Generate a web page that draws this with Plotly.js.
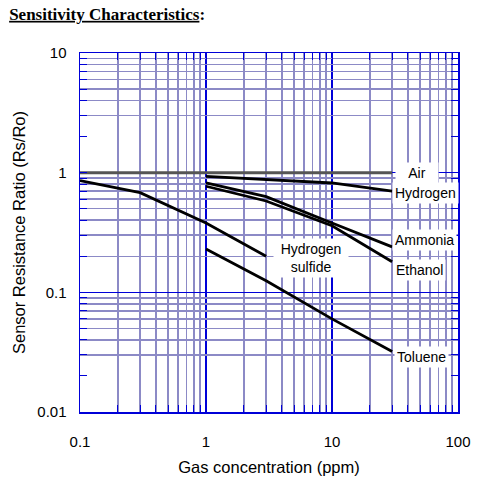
<!DOCTYPE html>
<html><head><meta charset="utf-8">
<script src="https://cdn.plot.ly/plotly-3.0.1.min.js"></script>
<style>html,body{margin:0;padding:0;background:#fff}</style>
</head><body><div id="chart" style="width:481px;height:479px"></div>
<script>
// ---- data ----
const airX = [0.1, 30];
const airY = [1, 1];
const hydrogenX = [1, 3, 10, 30];
const hydrogenY = [0.93, 0.87, 0.82, 0.70];
const ammoniaX = [1, 3, 10, 30];
const ammoniaY = [0.82, 0.63, 0.38, 0.24];
const ethanolX = [1, 3, 10, 30];
const ethanolY = [0.77, 0.58, 0.36, 0.18];
const h2sX = [0.1, 0.3, 1, 3];
const h2sY = [0.86, 0.68, 0.38, 0.20];
const tolueneX = [1, 3, 10, 30];
const tolueneY = [0.23, 0.125, 0.06, 0.032];

// ---- ticks / grid values ----
const xMajorTicks = [0.1, 1, 10, 100];
const xMajorLabels = ['0.1', '1', '10', '100'];
const xMinorTicks = [0.2,0.3,0.4,0.5,0.6,0.7,0.8,0.9, 2,3,4,5,6,7,8,9, 20,30,40,50,60,70,80,90];
const yMajorTicks = [0.01, 0.1, 1, 10];
const yMajorLabels = ['0.01', '0.1', '1', '10'];
const yMinorTicks = [0.02,0.03,0.04,0.05,0.06,0.07,0.08,0.09, 0.2,0.3,0.4,0.5,0.6,0.7,0.8,0.9, 2,3,4,5,6,7,8,9];
const yMinorGrid = [0.03,0.04,0.05,0.06,0.07,0.08,0.09, 0.2,0.3,0.4,0.5,0.6,0.7,0.8,0.9, 3,4,5,6,7,8,9];

const BLUE = '#0000d8';
const LAV = '#8c8ac6';
const FONT = '"Liberation Sans", Arial, sans-serif';

const line = {color: '#000', width: 2.8};
const traces = [
  {x: h2sX, y: h2sY, mode: 'lines', line: line, name: 'Hydrogen sulfide'},
  {x: hydrogenX, y: hydrogenY, mode: 'lines', line: line, name: 'Hydrogen'},
  {x: ammoniaX, y: ammoniaY, mode: 'lines', line: line, name: 'Ammonia'},
  {x: ethanolX, y: ethanolY, mode: 'lines', line: line, name: 'Ethanol'},
  {x: tolueneX, y: tolueneY, mode: 'lines', line: line, name: 'Toluene'},
  {x: airX, y: airY, mode: 'lines', line: {color: '#555555', width: 3}, name: 'Air', xaxis: 'x', yaxis: 'y2'}
];

function last(a) { return a[a.length - 1]; }
function endLabel(text, xs, ys, opts) {
  return Object.assign({
    text: text, x: Math.log10(last(xs)), y: Math.log10(last(ys)), xref: 'x', yref: 'y',
    showarrow: false, xanchor: 'left', yanchor: 'middle', bgcolor: '#ffffff', borderpad: 2,
    font: {family: FONT, size: 14, color: '#000'}
  }, opts);
}

const annotations = [
  endLabel('Air', airX, airY, {width: 38, xshift: 3, yshift: 0}),
  endLabel('Hydrogen', hydrogenX, hydrogenY, {xshift: 0, yshift: -2}),
  endLabel('Ammonia', ammoniaX, ammoniaY, {xshift: 0, yshift: 7}),
  endLabel('Ethanol', ethanolX, ethanolY, {xshift: 1, yshift: -8}),
  endLabel('Toluene', tolueneX, tolueneY, {xshift: 2, yshift: -5}),
  endLabel('Hydrogen<br>sulfide', h2sX, h2sY, {xshift: 7, yshift: -2, align: 'center', width: 70})
];

const layout = {
  width: 481, height: 479,
  margin: {l: 80, r: 23, t: 53, b: 67},
  paper_bgcolor: '#fff', plot_bgcolor: '#fff',
  showlegend: false,
  font: {family: FONT, color: '#000'},
  title: {
    text: '<b><u>Sensitivity Characteristics</u>:</b>',
    font: {family: '"Liberation Serif", "Times New Roman", serif', size: 17, color: '#000'},
    x: 0.019, xanchor: 'left', xref: 'container', y: 0.971, yanchor: 'middle', yref: 'container'
  },
  xaxis: {
    type: 'log', range: [-1, 2],
    tickmode: 'array', tickvals: xMajorTicks, ticktext: xMajorLabels,
    tickfont: {size: 15, family: FONT, color: '#000'},
    ticks: 'inside', ticklen: 7, tickcolor: BLUE, tickwidth: 1,
    showline: true, linecolor: BLUE, linewidth: 1.5, mirror: 'allticks',
    showgrid: true, gridcolor: BLUE, gridwidth: 1.2, zeroline: false,
    ticklabelstandoff: 15,
    minor: {tickmode: 'array', tickvals: xMinorTicks, ticks: 'inside', ticklen: 7, tickcolor: BLUE, tickwidth: 1,
            showgrid: true, gridcolor: LAV, gridwidth: 1.6},
    title: {text: 'Gas concentration (ppm)', font: {size: 16.5, family: FONT, color: '#000'}, standoff: 13}
  },
  yaxis: {
    type: 'log', range: [-2, 1],
    tickmode: 'array', tickvals: yMajorTicks, ticktext: yMajorLabels,
    tickfont: {size: 15, family: FONT, color: '#000'},
    ticks: 'inside', ticklen: 7, tickcolor: BLUE, tickwidth: 1,
    showline: true, linecolor: BLUE, linewidth: 1.5, mirror: 'allticks',
    showgrid: true, gridcolor: BLUE, gridwidth: 1.2, zeroline: false,
    ticklabelstandoff: 9,
    minor: {tickmode: 'array', tickvals: yMinorTicks, ticks: 'inside', ticklen: 7, tickcolor: BLUE, tickwidth: 1,
            showgrid: false},
    title: {text: 'Sensor Resistance Ratio (Rs/Ro)', font: {size: 16.5, family: FONT, color: '#000'}, standoff: 7}
  },
  yaxis2: {
    type: 'log', range: [-2, 1], overlaying: 'y', anchor: 'x',
    tickmode: 'array', tickvals: yMinorGrid, showticklabels: false, ticks: '',
    showline: false, zeroline: false,
    showgrid: true, gridcolor: LAV, gridwidth: 1.6
  },
  annotations: annotations
};

Plotly.newPlot('chart', traces, layout, {staticPlot: true, displayModeBar: false});
</script>
</body></html>
